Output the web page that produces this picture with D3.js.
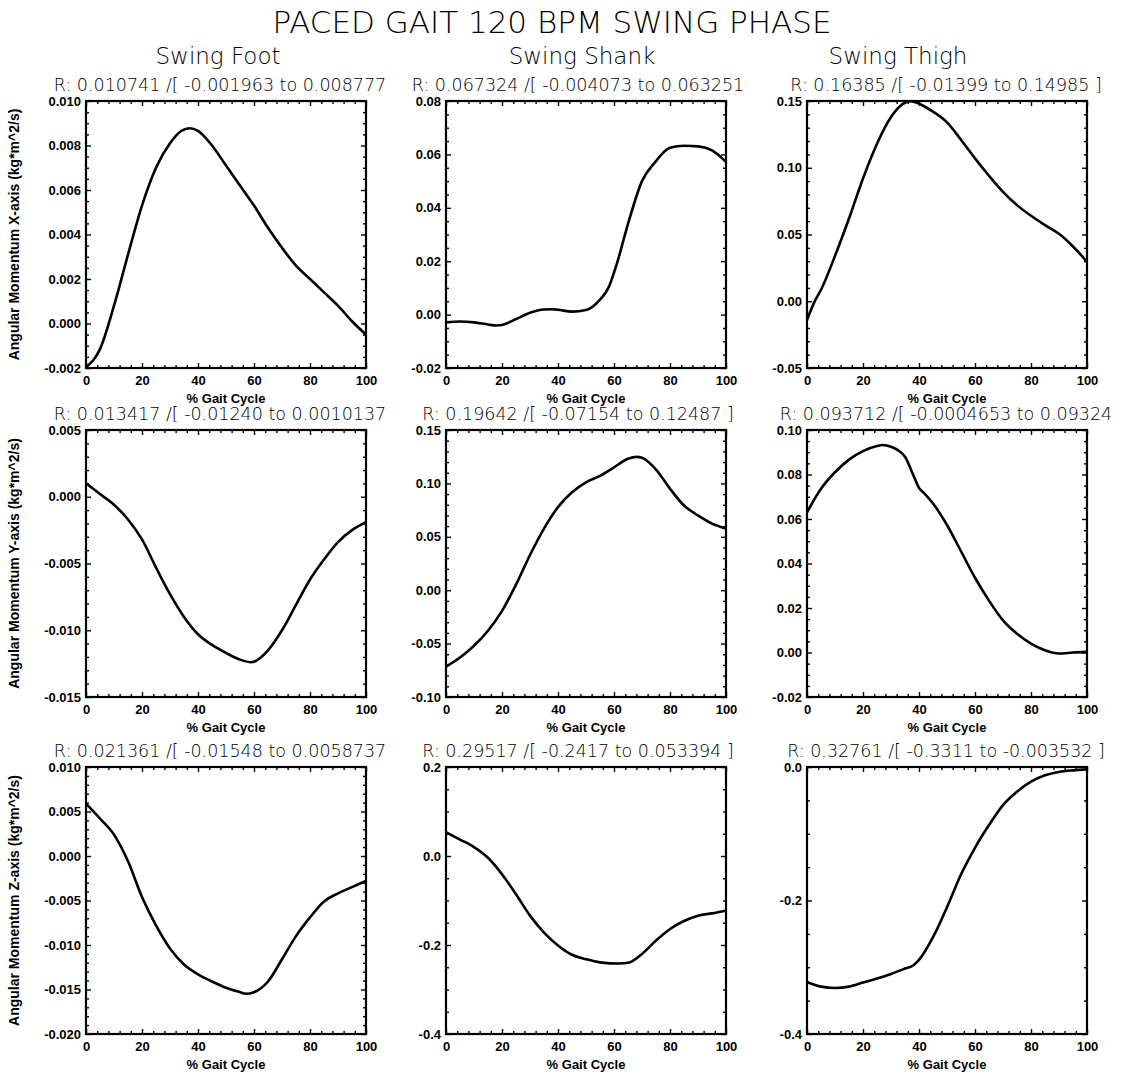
<!DOCTYPE html>
<html>
<head>
<meta charset="utf-8">
<script src="https://cdn.jsdelivr.net/npm/d3@7"></script>
<style>
  body { margin: 0; background: #fff; }
  svg { display: block; }
  .tick text { font-family: "Liberation Sans", Arial, sans-serif; font-weight: bold; font-size: 13px; fill: #000; }
  .tick line { stroke: #000; stroke-width: 1.4; }
  .thin { font-family: "DejaVu Sans", sans-serif; font-weight: 200; fill: #000; }
  .bold { font-family: "Liberation Sans", Arial, sans-serif; font-weight: bold; fill: #000; }
</style>
</head>
<body>
<svg id="chart" width="1128" height="1076"></svg>
<script>
// ---- text ----
const pageTitle = "PACED GAIT 120 BPM SWING PHASE";
const segments = ["Swing Foot", "Swing Shank", "Swing Thigh"];
const yTitles = [
  "Angular Momentum X-axis (kg*m^2/s)",
  "Angular Momentum Y-axis (kg*m^2/s)",
  "Angular Momentum Z-axis (kg*m^2/s)"
];
const xTitle = "% Gait Cycle";
const xTicks = [0, 20, 40, 60, 80, 100];

// range / R annotations, one row per momentum axis
const rangeRowX = [
  "R: 0.010741 /[ -0.001963 to 0.008777",
  "R: 0.067324 /[ -0.004073 to 0.063251",
  "R: 0.16385 /[ -0.01399 to 0.14985 ]"
];
const rangeRowY = [
  "R: 0.013417 /[ -0.01240 to 0.0010137",
  "R: 0.19642 /[ -0.07154 to 0.12487 ]",
  "R: 0.093712 /[ -0.0004653 to 0.09324"
];
const rangeRowZ = [
  "R: 0.021361 /[ -0.01548 to 0.0058737",
  "R: 0.29517 /[ -0.2417 to 0.053394 ]",
  "R: 0.32761 /[ -0.3311 to -0.003532 ]"
];

// ---- series: [% gait cycle, angular momentum] ----
const footX = [[0,-0.001963],[5,-0.00115],[10,0.0008],[15,0.0031],[20,0.0053],[25,0.0070],[30,0.0081],[34,0.00865],[37,0.008777],[40,0.00866],[45,0.0080],[50,0.0071],[55,0.0062],[60,0.0053],[65,0.0043],[70,0.0034],[75,0.0026],[80,0.0020],[85,0.0014],[90,0.0008],[95,0.0001],[100,-0.0005]];
const shankX = [[0,-0.0029],[5,-0.0026],[10,-0.0029],[15,-0.0037],[18,-0.004073],[20,-0.0039],[25,-0.0017],[30,0.0007],[35,0.0019],[38,0.0020],[40,0.0018],[45,0.0011],[50,0.0017],[55,0.0056],[58,0.0100],[61,0.0190],[65,0.0340],[70,0.0500],[75,0.0575],[77,0.0600],[80,0.0625],[85,0.063251],[90,0.0630],[95,0.0615],[100,0.0572]];
const thighX = [[0,-0.01399],[3,0.0010],[5,0.0086],[10,0.0340],[15,0.0620],[20,0.0920],[25,0.1180],[30,0.1380],[34,0.1475],[37,0.14985],[40,0.1480],[45,0.1420],[50,0.1340],[55,0.1210],[60,0.1070],[65,0.0940],[70,0.0820],[75,0.0720],[80,0.0640],[85,0.0570],[90,0.0505],[95,0.0410],[100,0.0296]];

const footY = [[0,0.0010137],[5,0.0002],[10,-0.0006],[15,-0.0017],[20,-0.0032],[25,-0.0053],[30,-0.0073],[35,-0.0090],[40,-0.0103],[45,-0.0111],[50,-0.0117],[55,-0.0122],[59,-0.01240],[65,-0.0115],[70,-0.0100],[75,-0.0081],[80,-0.0062],[85,-0.0047],[90,-0.0034],[95,-0.0025],[100,-0.0019]];
const shankY = [[0,-0.07154],[5,-0.0630],[10,-0.0520],[15,-0.0380],[20,-0.0194],[25,0.0052],[30,0.0330],[35,0.0577],[40,0.0778],[45,0.0917],[50,0.1010],[55,0.1070],[60,0.1150],[65,0.1230],[68,0.12487],[70,0.1240],[75,0.1130],[80,0.0950],[85,0.0793],[90,0.0700],[95,0.0623],[100,0.0577]];
const thighY = [[0,0.0630],[5,0.0736],[10,0.0810],[15,0.0867],[20,0.0905],[25,0.0928],[27,0.09324],[30,0.0925],[33,0.0905],[35,0.0880],[38,0.0796],[40,0.0740],[42,0.0714],[45,0.0670],[50,0.0573],[55,0.0455],[60,0.0336],[65,0.0233],[70,0.0144],[75,0.0084],[80,0.0040],[85,0.0010],[90,-0.0004653],[95,0.0000],[100,0.0003]];

const footZ = [[0,0.0058737],[5,0.0042],[10,0.0024],[15,-0.0006],[20,-0.0046],[25,-0.0078],[30,-0.0104],[35,-0.0122],[40,-0.0133],[45,-0.0141],[50,-0.0148],[55,-0.0153],[57,-0.01548],[60,-0.0153],[65,-0.0141],[70,-0.0116],[75,-0.0090],[80,-0.0069],[85,-0.0051],[90,-0.0042],[95,-0.0035],[100,-0.0028]];
const shankZ = [[0,0.053394],[5,0.0370],[10,0.0200],[15,-0.0040],[20,-0.0410],[25,-0.0860],[30,-0.1340],[35,-0.1720],[40,-0.2010],[45,-0.2220],[50,-0.2320],[55,-0.2390],[62,-0.2417],[65,-0.2400],[70,-0.2200],[75,-0.1900],[80,-0.1640],[85,-0.1460],[90,-0.1340],[95,-0.1290],[100,-0.1230]];
const thighZ = [[0,-0.3220],[5,-0.3290],[10,-0.3311],[15,-0.3290],[20,-0.3230],[25,-0.3170],[30,-0.3100],[35,-0.3020],[38,-0.2970],[40,-0.2890],[45,-0.2550],[50,-0.2100],[55,-0.1610],[60,-0.1210],[65,-0.0870],[70,-0.0570],[75,-0.0370],[80,-0.0220],[85,-0.0124],[90,-0.0074],[95,-0.0050],[100,-0.003532]];

// ---- y ticks for each panel ----
const footXTicks  = [-0.002, 0, 0.002, 0.004, 0.006, 0.008, 0.010];
const footXLabels = ["-0.002", "0.000", "0.002", "0.004", "0.006", "0.008", "0.010"];
const shankXTicks  = [-0.02, 0, 0.02, 0.04, 0.06, 0.08];
const shankXLabels = ["-0.02", "0.00", "0.02", "0.04", "0.06", "0.08"];
const thighXTicks  = [-0.05, 0, 0.05, 0.10, 0.15];
const thighXLabels = ["-0.05", "0.00", "0.05", "0.10", "0.15"];

const footYTicks  = [-0.015, -0.010, -0.005, 0, 0.005];
const footYLabels = ["-0.015", "-0.010", "-0.005", "0.000", "0.005"];
const shankYTicks  = [-0.10, -0.05, 0, 0.05, 0.10, 0.15];
const shankYLabels = ["-0.10", "-0.05", "0.00", "0.05", "0.10", "0.15"];
const thighYTicks  = [-0.02, 0, 0.02, 0.04, 0.06, 0.08, 0.10];
const thighYLabels = ["-0.02", "0.00", "0.02", "0.04", "0.06", "0.08", "0.10"];

const footZTicks  = [-0.020, -0.015, -0.010, -0.005, 0, 0.005, 0.010];
const footZLabels = ["-0.020", "-0.015", "-0.010", "-0.005", "0.000", "0.005", "0.010"];
const shankZTicks  = [-0.4, -0.2, 0, 0.2];
const shankZLabels = ["-0.4", "-0.2", "0.0", "0.2"];
const thighZTicks  = [-0.4, -0.2, 0];
const thighZLabels = ["-0.4", "-0.2", "0.0"];

// panels, row-major: [series, ticks, labels, minor subdivisions]
const panels = [
  [footX,  footXTicks,  footXLabels,  4], [shankX, shankXTicks, shankXLabels, 4], [thighX, thighXTicks, thighXLabels, 5],
  [footY,  footYTicks,  footYLabels,  5], [shankY, shankYTicks, shankYLabels, 5], [thighY, thighYTicks, thighYLabels, 4],
  [footZ,  footZTicks,  footZLabels,  5], [shankZ, shankZTicks, shankZLabels, 4], [thighZ, thighZTicks, thighZLabels, 4]
];
const rangeRows = [rangeRowX, rangeRowY, rangeRowZ];

// ---- layout ----
const colLeft = [86, 446, 807];
const rowTop = [101, 430, 767];
const W = 280, H = 267;
const majorLen = 5, minorLen = 3;
const xMinorSub = 5;

const svg = d3.select("#chart");

svg.append("text").attr("class", "thin")
  .attr("x", 552).attr("y", 33)
  .attr("text-anchor", "middle").attr("font-size", 31)
  .text(pageTitle);

const segCenters = [218, 582, 898];
segments.forEach((s, i) => {
  svg.append("text").attr("class", "thin")
    .attr("x", segCenters[i]).attr("y", 64)
    .attr("text-anchor", "middle").attr("font-size", 23)
    .text(s);
});

const rangeCenters = [220, 578, 946];

function minorsOf(ticks, sub) {
  const out = [];
  for (let i = 0; i < ticks.length - 1; i++) {
    const step = (ticks[i + 1] - ticks[i]) / sub;
    for (let k = 1; k < sub; k++) out.push(ticks[i] + k * step);
  }
  return out;
}

panels.forEach((p, idx) => {
  const [series, ticks, labels, sub] = p;
  const row = Math.floor(idx / 3), col = idx % 3;
  const x0 = colLeft[col], y0 = rowTop[row];
  const g = svg.append("g").attr("transform", `translate(${x0},${y0})`);

  const x = d3.scaleLinear().domain([0, 100]).range([0, W]);
  const y = d3.scaleLinear().domain([ticks[0], ticks[ticks.length - 1]]).range([H, 0]);

  const xMinor = minorsOf(xTicks, xMinorSub);
  const yMinor = minorsOf(ticks, sub);

  // major ticks with labels (bottom / left), mirrored on top / right
  g.append("g").attr("transform", `translate(0,${H})`)
    .call(d3.axisBottom(x).tickValues(xTicks).tickSize(-majorLen).tickPadding(8).tickFormat(d3.format("d")));
  g.append("g")
    .call(d3.axisTop(x).tickValues(xTicks).tickSize(-majorLen).tickFormat(""));
  g.append("g")
    .call(d3.axisLeft(y).tickValues(ticks).tickSize(-majorLen).tickPadding(5).tickFormat((d, i) => labels[i]));
  g.append("g").attr("transform", `translate(${W},0)`)
    .call(d3.axisRight(y).tickValues(ticks).tickSize(-majorLen).tickFormat(""));

  // minor ticks
  g.append("g").attr("transform", `translate(0,${H})`)
    .call(d3.axisBottom(x).tickValues(xMinor).tickSize(-minorLen).tickFormat(""));
  g.append("g")
    .call(d3.axisTop(x).tickValues(xMinor).tickSize(-minorLen).tickFormat(""));
  g.append("g")
    .call(d3.axisLeft(y).tickValues(yMinor).tickSize(-minorLen).tickFormat(""));
  g.append("g").attr("transform", `translate(${W},0)`)
    .call(d3.axisRight(y).tickValues(yMinor).tickSize(-minorLen).tickFormat(""));

  g.selectAll(".domain").remove();

  // plot frame
  g.append("rect").attr("width", W).attr("height", H)
    .attr("fill", "none").attr("stroke", "#000").attr("stroke-width", 2.2);

  // momentum curve
  const line = d3.line().x(d => x(d[0])).y(d => y(d[1])).curve(d3.curveMonotoneX);
  g.append("path").datum(series)
    .attr("d", line).attr("fill", "none")
    .attr("stroke", "#000").attr("stroke-width", 2.6)
    .attr("stroke-linejoin", "round");

  // x title
  g.append("text").attr("class", "bold")
    .attr("x", W / 2).attr("y", H + 35)
    .attr("text-anchor", "middle").attr("font-size", 13)
    .text(xTitle);

  // R / range annotation
  svg.append("text").attr("class", "thin")
    .attr("x", rangeCenters[col]).attr("y", y0 - 10)
    .attr("text-anchor", "middle").attr("font-size", 17.5)
    .text(rangeRows[row][col]);

  // y title on the first column
  if (col === 0) {
    svg.append("text").attr("class", "bold")
      .attr("transform", `translate(19,${y0 + H / 2}) rotate(-90)`)
      .attr("text-anchor", "middle").attr("font-size", 14)
      .text(yTitles[row]);
  }
});
</script>
</body>
</html>
